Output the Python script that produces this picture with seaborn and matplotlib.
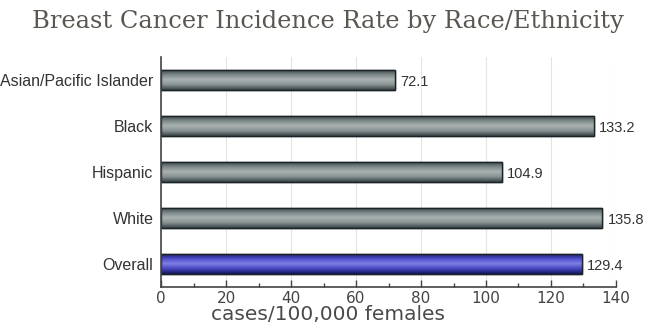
import numpy as np
import pandas as pd
import matplotlib
matplotlib.use("Agg")
import matplotlib.pyplot as plt
from matplotlib.ticker import MultipleLocator
import seaborn as sns

# data
groups = ["Asian/Pacific Islander", "Black", "Hispanic", "White", "Overall"]
rates = [72.1, 133.2, 104.9, 135.8, 129.4]
value_labels = ["72.1", "133.2", "104.9", "135.8", "129.4"]

df = pd.DataFrame({"group": groups, "rate": rates})

sns.set_style("white")
plt.rcParams["font.family"] = ["Liberation Sans", "DejaVu Sans"]

fig = plt.figure(figsize=(6.47, 3.27), dpi=100)
ax = fig.add_axes([0.249, 0.122, 0.703, 0.704])

bar_colors = ["#6f7a7c"] * 4 + ["#3c3cb0"]
sns.barplot(data=df, y="group", x="rate", hue="group", palette=bar_colors,
            legend=False, width=0.44, ax=ax, edgecolor="#1c2428", linewidth=1.0)

# metallic cylinder look: vertical gradient clipped to each bar
grey_grad = ["#2f3b3e", "#788485", "#aab2b2", "#889293", "#364245"]
blue_grad = ["#141450", "#4a4ac8", "#7f7fe6", "#4646c0", "#15155a"]
for i, patch in enumerate(ax.patches):
    x0, y0 = patch.get_x(), patch.get_y()
    w, h = patch.get_width(), patch.get_height()
    stops = blue_grad if i == 4 else grey_grad
    cmap = matplotlib.colors.LinearSegmentedColormap.from_list("g%d" % i, stops)
    grad = np.linspace(0, 1, 64).reshape(-1, 1)
    im = ax.imshow(grad, cmap=cmap, aspect="auto", extent=[x0, x0 + w, y0 + h, y0],
                   origin="upper", zorder=patch.get_zorder() + 0.1)
    im.set_clip_path(patch)
    ax.add_patch(plt.Rectangle((x0, y0), w, h, fill=False, edgecolor="#1c2428",
                               linewidth=1.0, zorder=patch.get_zorder() + 0.2))
    ax.text(x0 + w + 1.6, y0 + h / 2 + 0.04, value_labels[i], va="center", ha="left",
            fontsize=10.5, color="#333333")

ax.set_xlim(0, 140)
ax.set_ylim(4.5, -0.5)
ax.xaxis.set_major_locator(MultipleLocator(20))
ax.xaxis.set_minor_locator(MultipleLocator(10))
ax.tick_params(axis="x", which="both", bottom=True)
ax.tick_params(axis="x", which="major", direction="in", length=5, width=1,
               color="#444444", labelsize=11, labelcolor="#444444", pad=3)
ax.tick_params(axis="x", which="minor", direction="in", length=3, width=1, color="#444444")
ax.tick_params(axis="y", length=0, labelsize=11.5, labelcolor="#333333", pad=5.5)
for lab in ax.get_xticklabels():
    lab.set_family("DejaVu Sans")

ax.grid(axis="x", which="major", color="#e4e4e4", linewidth=0.8)
ax.set_axisbelow(True)
for side in ["top", "right"]:
    ax.spines[side].set_visible(False)
for side in ["left", "bottom"]:
    ax.spines[side].set_color("#444444")
    ax.spines[side].set_linewidth(1.2)

ax.set_ylabel("")
ax.set_xlabel("cases/100,000 females", fontsize=14.5, color="#4a4a4a",
              family="DejaVu Sans")
ax.xaxis.set_label_coords(0.367, -0.078)

fig.text(0.507, 0.935, "Breast Cancer Incidence Rate by Race/Ethnicity",
         ha="center", va="center", fontsize=17.4, color="#5a5650",
         family="DejaVu Serif")

fig.savefig("out.png", dpi=100)
